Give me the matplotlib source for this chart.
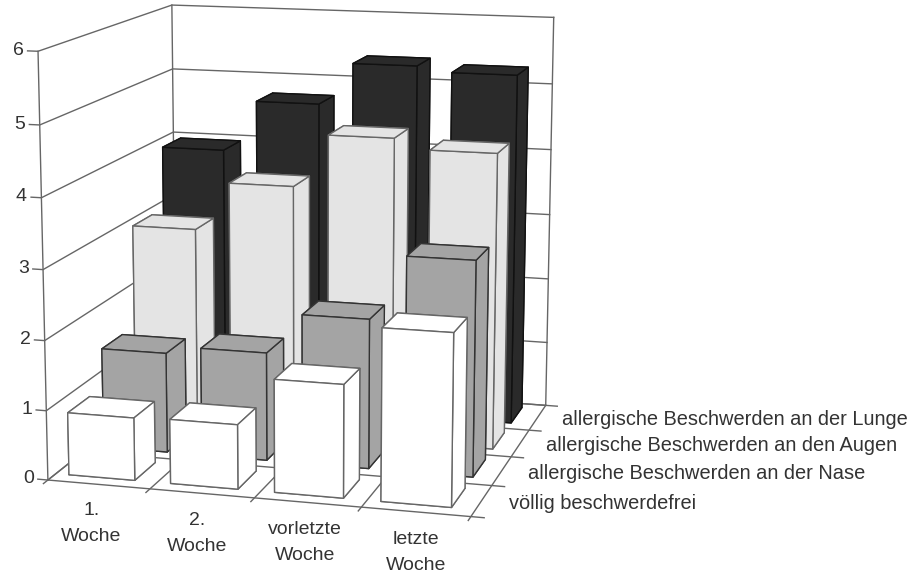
import numpy as np
import matplotlib
matplotlib.use("Agg")
import matplotlib.pyplot as plt

plt.rcParams['font.family'] = ['Liberation Sans', 'DejaVu Sans']

weeks = ["1.\nWoche", "2.\nWoche", "vorletzte\nWoche", "letzte\nWoche"]
groups = ["völlig beschwerdefrei",
          "allergische Beschwerden an der Nase",
          "allergische Beschwerden an den Augen",
          "allergische Beschwerden an der Lunge"]
frei = [0.9, 0.92, 1.6, 2.42]
nase = [1.47, 1.58, 2.17, 3.1]
augen = [3.0, 3.72, 4.5, 4.35]
lunge = [3.95, 4.72, 5.35, 5.27]
series = [frei, nase, augen, lunge]
colors = ["#ffffff", "#a4a4a4", "#e4e4e4", "#2a2a2a"]
edges = ["#666666", "#333333", "#666666", "#111111"]
ztick = range(7)
gray = "#666666"

fig = plt.figure(figsize=(9.12, 5.71), dpi=100)
ax = fig.add_axes([-0.169, 0.065, 1, 1], projection='3d')
ax.set_proj_type('persp', focal_length=0.8)
ax.view_init(elev=12, azim=-74.5)
ax.set_box_aspect((3.85, 3.6, 3.85), zoom=1.2)
ax.computed_zorder = False
ax.set_xlim(0, 4)
ax.set_ylim(0, 4)
ax.set_zlim(0, 6)
ax.set_axis_off()

# walls and floor
for z in ztick:
    ax.plot([-0.1, 0, 0, 4], [0, 0, 4, 4], [z, z, z, z], color=gray, lw=1, zorder=1)
ax.plot([0, 0], [0, 0], [0, 6], color=gray, lw=1, zorder=1)
ax.plot([0, 0], [4, 4], [0, 6], color=gray, lw=1, zorder=1)
ax.plot([4, 4], [4, 4], [0, 6], color=gray, lw=1, zorder=1)
for i in range(5):
    ax.plot([i, i], [-0.12, 4], [0, 0], color=gray, lw=1, zorder=1)
    ax.plot([0, 4.12], [i, i], [0, 0], color=gray, lw=1, zorder=1)

z = 2
for row in range(3, -1, -1):
    for col in range(4):
        ax.bar3d(col + 0.13, row + 0.22, 0, 0.65, 0.62, series[row][col],
                 color=colors[row], edgecolor=edges[row], linewidth=1, shade=False,
                 zorder=z)
        z += 1

for v in ztick:
    ax.text(-0.14, 0, v, str(v), ha='right', va='center', fontsize=14, color="#333333")
for i, w in enumerate(weeks):
    ax.text(i + 0.62, -0.55, 0, w, ha='center', va='top', fontsize=14, color="#333333",
            linespacing=1.7)
for i, g in enumerate(groups):
    ax.text(4.25, i + 0.5, 0, g, ha='left', va='center', fontsize=14.4, color="#333333")

fig.savefig("out.png", dpi=100)
